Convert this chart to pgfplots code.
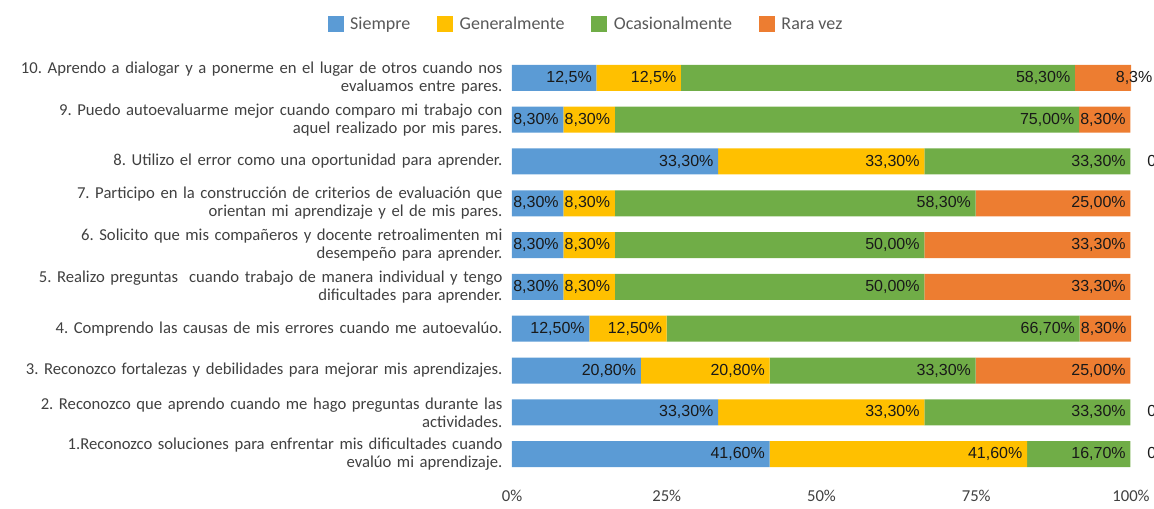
\documentclass[border=0pt]{standalone}
\usepackage{fontspec}
\setmainfont{Carlito}
\newfontfamily\valfont{Liberation Sans}
\usepackage{pgfplots}
\pgfplotsset{compat=1.18}
\definecolor{siempre}{HTML}{5B9BD5}
\definecolor{general}{HTML}{FFC000}
\definecolor{ocasion}{HTML}{70AD47}
\definecolor{rara}{HTML}{ED7D31}
\definecolor{labelgray}{HTML}{404040}
\definecolor{leggray}{HTML}{595959}
\frenchspacing

\begin{document}
\begin{tikzpicture}[x=1pt,y=1pt]
\useasboundingbox (0,0) rectangle (865.5,381);
\begin{axis}[
  at={(384pt,24.75pt)}, anchor=south west,
  scale only axis, width=464.25pt, height=313.5pt,
  clip=false,
  xbar stacked, bar width=19.5pt,
  xmin=0, xmax=100, ymin=0.5, ymax=10.5,
  axis line style={draw=none}, major tick length=0pt,
  xtick={0,25,50,75,100},
  xticklabel={\pgfmathprintnumber{\tick}\%},
  xticklabel style={font=\fontsize{12.5}{14}\selectfont, text=labelgray, yshift=-8pt,
    /pgf/number format/assume math mode=true},
  ytick={1,...,10},
  yticklabels={
    {1.Reconozco soluciones para enfrentar mis dificultades cuando\\evalúo mi aprendizaje.},
    {2. Reconozco que aprendo cuando me hago preguntas durante las\\actividades.},
    {3. Reconozco fortalezas y debilidades para mejorar mis aprendizajes.},
    {4. Comprendo las causas de mis errores cuando me autoevalúo.},
    {5. Realizo preguntas~ cuando trabajo de manera individual y tengo\\dificultades para aprender.},
    {6. Solicito que mis compañeros y docente retroalimenten mi\\desempeño para aprender.},
    {7. Participo en la construcción de criterios de evaluación que\\orientan mi aprendizaje y el de mis pares.},
    {8. Utilizo el error como una oportunidad para aprender.},
    {9. Puedo autoevaluarme mejor cuando comparo mi trabajo con\\aquel realizado por mis pares.},
    {10. Aprendo a dialogar y a ponerme en el lugar de otros cuando nos\\evaluamos entre pares.}
  },
  yticklabel style={text width=375pt, align=right, inner sep=0pt, xshift=-7pt,
    font=\fontsize{12.5}{13.5}\selectfont, text=labelgray},
  point meta=explicit symbolic,
  visualization depends on={rawx \as \rawx},
  nodes near coords={\pgfplotspointmeta},
  nodes near coords style={anchor=east, xshift={\rawx*2.32125pt},
    font=\valfont\fontsize{12}{14}\selectfont, text=black!90},
  legend columns=4,
  legend style={at={(0.12,1.078)}, anchor=center, draw=none,
    font=\fontsize{13.5}{15}\selectfont, text=leggray,
    /tikz/every odd column/.append style={column sep=3pt},
    /tikz/every even column/.append style={column sep=18pt}},
  legend image code/.code={\fill[#1] (0pt,-6pt) rectangle (12pt,6pt);},
]
\addplot[fill=siempre, draw=none] coordinates {
  (41.6,1) [41,60\%] (33.3,2) [33,30\%] (20.8,3) [20,80\%] (12.5,4) [12,50\%]
  (8.3,5) [8,30\%] (8.3,6) [8,30\%] (8.3,7) [8,30\%] (33.3,8) [33,30\%]
  (8.3,9) [8,30\%] (13.65,10) [12,5\%]
};
\addplot[fill=general, draw=none] coordinates {
  (41.6,1) [41,60\%] (33.3,2) [33,30\%] (20.8,3) [20,80\%] (12.5,4) [12,50\%]
  (8.3,5) [8,30\%] (8.3,6) [8,30\%] (8.3,7) [8,30\%] (33.3,8) [33,30\%]
  (8.3,9) [8,30\%] (13.65,10) [12,5\%]
};
\addplot[fill=ocasion, draw=none] coordinates {
  (16.7,1) [16,70\%] (33.3,2) [33,30\%] (33.3,3) [33,30\%] (66.7,4) [66,70\%]
  (50,5) [50,00\%] (50,6) [50,00\%] (58.3,7) [58,30\%] (33.3,8) [33,30\%]
  (75,9) [75,00\%] (63.65,10) [58,30\%]
};
\addplot[fill=rara, draw=none] coordinates {
  (0,1) [\relax] (0,2) [\relax] (25,3) [25,00\%] (8.3,4) [8,30\%]
  (33.3,5) [33,30\%] (33.3,6) [33,30\%] (25,7) [25,00\%] (0,8) [\relax]
  (8.3,9) [8,30\%] (9.06,10) [\relax]
};
\legend{Siempre, Generalmente, Ocasionalmente, Rara vez}
\coordinate (lab10) at (axis cs:100.5,10);
\coordinate (zero1) at (axis cs:102.6,1);
\coordinate (zero2) at (axis cs:102.6,2);
\coordinate (zero8) at (axis cs:102.6,8);
\end{axis}
\node[font=\valfont\fontsize{12}{14}\selectfont, text=black!90] at (lab10) {8,3\%};
\node[anchor=west, inner sep=0pt, font=\valfont\fontsize{12}{14}\selectfont, text=black!90] at (zero1) {0,00\%};
\node[anchor=west, inner sep=0pt, font=\valfont\fontsize{12}{14}\selectfont, text=black!90] at (zero2) {0,00\%};
\node[anchor=west, inner sep=0pt, font=\valfont\fontsize{12}{14}\selectfont, text=black!90] at (zero8) {0,00\%};
\end{tikzpicture}
\end{document}
